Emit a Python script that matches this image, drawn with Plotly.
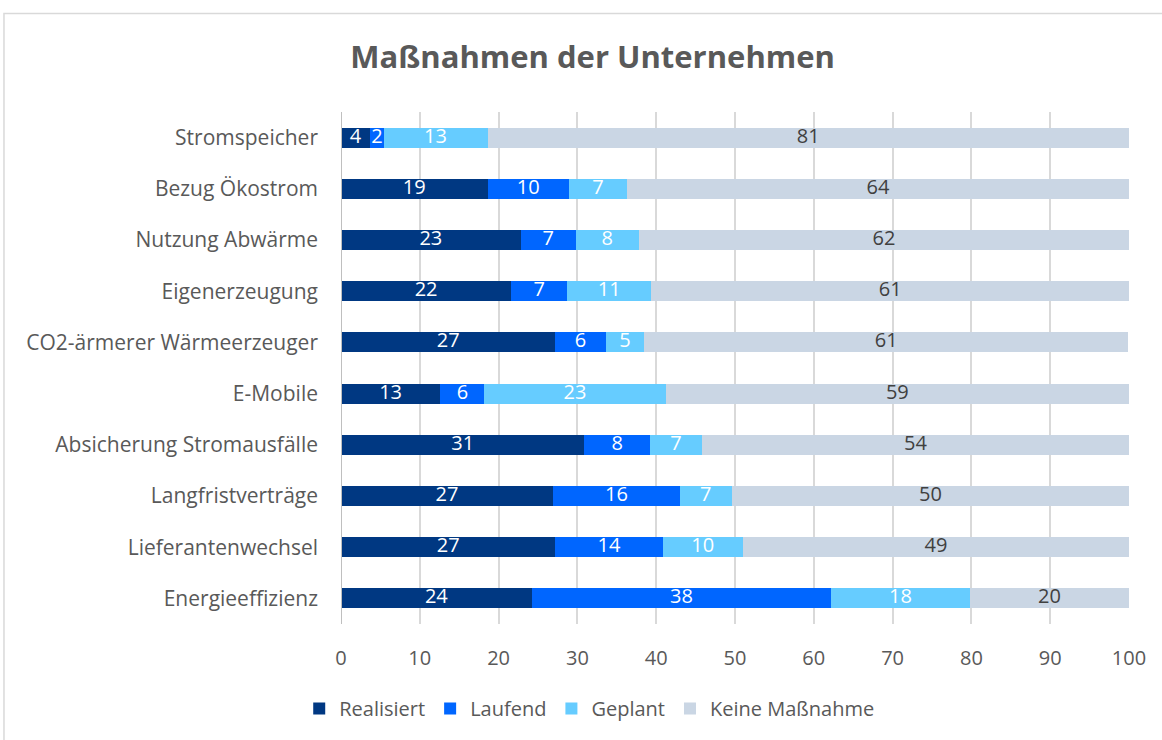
import plotly.graph_objects as go

categories = ["Energieeffizienz", "Lieferantenwechsel", "Langfristverträge",
              "Absicherung Stromausfälle", "E-Mobile", "CO2-ärmerer Wärmeerzeuger",
              "Eigenerzeugung", "Nutzung Abwärme", "Bezug Ökostrom", "Stromspeicher"]
realisiert = [24.2, 27.2, 26.9, 30.9, 12.6, 27.2, 21.6, 22.8, 18.6, 3.7]
laufend = [38.0, 13.6, 16.1, 8.3, 5.6, 6.4, 7.1, 7.0, 10.3, 1.7]
geplant = [17.6, 10.2, 6.6, 6.6, 23.0, 4.9, 10.7, 8.0, 7.4, 13.2]
keine = [20.2, 49.0, 50.4, 54.2, 58.8, 61.4, 60.6, 62.2, 63.7, 81.4]

series = [
    ("Realisiert", realisiert, "#003882", "white"),
    ("Laufend", laufend, "#0066FF", "white"),
    ("Geplant", geplant, "#66CCFF", "white"),
    ("Keine Maßnahme", keine, "#CAD6E4", "#404040"),
]

FONT = "Open Sans"
fig = go.Figure()
base = [0.0] * len(categories)
label_traces = []
for name, vals, color, tcolor in series:
    fig.add_trace(go.Bar(
        y=categories, x=vals, name=name, orientation="h",
        marker=dict(color=color, line=dict(width=0)),
        hoverinfo="x+name",
    ))
    mids = [b + v / 2 for b, v in zip(base, vals)]
    label_traces.append(go.Scatter(
        y=categories, x=mids, mode="text", text=[str(int(v + 0.5)) for v in vals],
        textposition="middle center", showlegend=False, hoverinfo="skip",
        textfont=dict(family=FONT, size=20, color=tcolor),
    ))
    base = [b + v for b, v in zip(base, vals)]
for t in label_traces:
    fig.add_trace(t)

fig.update_layout(
    barmode="stack", bargap=0.61,
    width=1162, height=740,
    margin=dict(l=341, r=33, t=112, b=114),
    paper_bgcolor="white", plot_bgcolor="white",
    title=dict(text="<b>Maßnahmen der Unternehmen</b>", x=0.51, xanchor="center",
               y=0.923, yanchor="middle",
               font=dict(family=FONT, size=31, color="#595959")),
    legend=dict(orientation="h", x=0.315, xanchor="center", y=-0.165, yanchor="middle",
                font=dict(family=FONT, size=20, color="#595959"),
                traceorder="normal", itemwidth=30),
    xaxis=dict(range=[0, 100], dtick=10, showgrid=True, gridcolor="#D9D9D9", gridwidth=1.5,
               zeroline=False, showline=False, ticks="", ticklabelstandoff=20,
               tickfont=dict(family=FONT, size=20, color="#595959")),
    yaxis=dict(showgrid=False, showline=False, ticks="", ticklabelstandoff=22,
               tickfont=dict(family=FONT, size=21, color="#595959")),
    shapes=[
        dict(type="line", xref="x", yref="paper", x0=0, x1=0, y0=0, y1=1,
             line=dict(color="#BFBFBF", width=2)),
        dict(type="rect", xref="paper", yref="paper", x0=-0.4277, x1=1.2, y0=-0.4, y1=1.1926,
             line=dict(color="#D9D9D9", width=1.5), layer="below"),
    ],
)

fig.write_html("out.html", config={"displayModeBar": False},
               post_script="document.body.style.margin='0px';")
